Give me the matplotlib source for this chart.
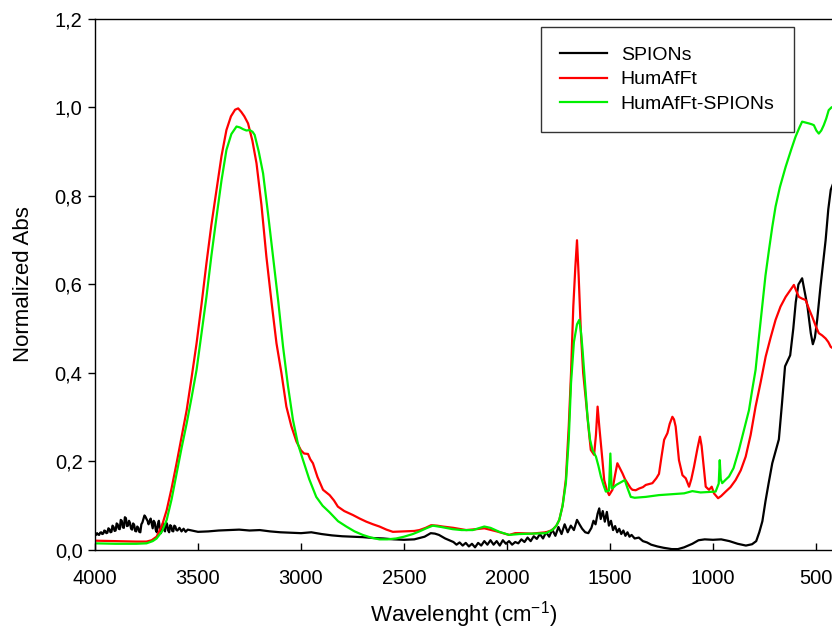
import matplotlib
matplotlib.use("Agg")
import matplotlib.pyplot as plt
from matplotlib.ticker import FuncFormatter, MultipleLocator

plt.rcParams['font.family'] = ['Liberation Sans', 'DejaVu Sans']

# SPIONs (black)
spions_x = [4000, 3995, 3990, 3985, 3980, 3975, 3970, 3965, 3960, 3955, 3950, 3945, 3940, 3935,
            3930, 3925, 3920, 3915, 3910, 3905, 3900, 3895, 3890, 3885, 3880, 3875, 3870, 3865,
            3860, 3855, 3850, 3845, 3840, 3835, 3830, 3825, 3820, 3815, 3810, 3805, 3800, 3795,
            3790, 3785, 3780, 3775, 3770, 3765, 3760, 3755, 3750, 3745, 3740, 3735, 3730, 3725,
            3720, 3715, 3710, 3705, 3700, 3695, 3690, 3685, 3680, 3675, 3670, 3665, 3660, 3655,
            3650, 3645, 3640, 3635, 3630, 3625, 3620, 3615, 3610, 3605, 3600, 3590,
            3580, 3570, 3560, 3550, 3500, 3450, 3400, 3350, 3300, 3250, 3200, 3150, 3100, 3050,
            3000, 2950, 2900, 2850, 2800, 2750, 2700, 2650, 2600, 2550, 2500, 2450, 2400, 2370,
            2350, 2330, 2300, 2280, 2260, 2245, 2230, 2215, 2200, 2185, 2170, 2155, 2140, 2125,
            2110, 2095, 2080, 2065, 2050, 2035, 2020, 2005, 1990, 1975, 1960, 1945, 1930, 1915,
            1900, 1885, 1870, 1855, 1840, 1825, 1810, 1795, 1780, 1765, 1750, 1735, 1720, 1705,
            1690, 1675, 1660, 1648, 1635, 1620, 1605, 1590, 1580, 1570, 1560, 1552, 1545, 1535,
            1525, 1515, 1505, 1495, 1485, 1475, 1465, 1455, 1445, 1435, 1425, 1415, 1405, 1395,
            1380, 1360, 1340, 1320, 1300, 1270, 1240, 1200, 1170, 1140, 1100, 1070, 1040, 1000,
            960, 920, 880, 840, 810, 790, 775, 760, 745, 730, 712, 695, 680, 665, 650, 640, 625,
            610, 598, 585, 567, 555, 541, 525, 515, 505, 494, 478, 465, 453, 440, 428, 415]
spions_y = [.036, .034, .038, .035, .034, .039, .040, .036, .037, .044, .043, .038, .039, .049,
            .047, .040, .041, .055, .052, .043, .044, .060, .058, .048, .047, .068, .066, .051,
            .050, .074, .072, .054, .055, .066, .061, .048, .046, .060, .057, .043, .042, .053,
            .050, .041, .040, .058, .062, .070, .078, .075, .070, .066, .058, .064, .071, .060,
            .049, .066, .062, .045, .040, .058, .066, .048, .038, .050, .060, .046, .042, .062,
            .058, .044, .040, .056, .054, .043, .042, .055, .053, .045, .044, .050,
            .042, .048, .041, .046, .041, .042, .044, .045, .046, .044, .045, .042, .040, .039,
            .038, .040, .036, .033, .031, .030, .029, .027, .026, .024, .023, .024, .030, .038,
            .037, .034, .026, .022, .018, .012, .017, .010, .016, .008, .014, .006, .016, .010,
            .020, .012, .022, .012, .020, .010, .022, .014, .020, .012, .018, .015, .024, .018,
            .028, .020, .031, .025, .036, .026, .040, .030, .046, .032, .052, .036, .058, .040,
            .055, .045, .068, .058, .048, .040, .038, .050, .066, .058, .082, .094, .070, .088,
            .064, .086, .055, .066, .045, .054, .040, .048, .036, .044, .032, .040, .030, .034,
            .026, .028, .020, .017, .012, .008, .005, .002, .002, .006, .014, .022, .024, .023,
            .024, .020, .014, .010, .013, .020, .040, .065, .110, .150, .196, .225, .250, .330,
            .415, .425, .440, .500, .560, .600, .614, .585, .550, .490, .465, .480, .520, .595,
            .650, .700, .770, .814, .830]

# HumAfFt (red)
humafft_x = [4000, 3900, 3800, 3750, 3725, 3701, 3675, 3652, 3628, 3604, 3580, 3555, 3531, 3507,
             3483, 3459, 3435, 3410, 3386, 3362, 3340, 3320, 3305, 3290, 3275, 3257, 3236, 3216,
             3192, 3168, 3143, 3119, 3095, 3071, 3047, 3022, 3000, 2985, 2966, 2955, 2942, 2920,
             2893, 2861, 2840, 2821, 2790, 2748, 2715, 2683, 2650, 2619, 2585, 2554, 2500, 2450,
             2425, 2395, 2368, 2340, 2312, 2260, 2198, 2150, 2110, 2050, 1989, 1960, 1940, 1880,
             1811, 1780, 1760, 1746, 1730, 1714, 1700, 1689, 1678, 1668, 1660, 1652, 1641, 1630,
             1617, 1605, 1593, 1577, 1568, 1560, 1552, 1544, 1536, 1528, 1515, 1504, 1488, 1475,
             1464, 1452, 1439, 1427, 1415, 1400, 1391, 1375, 1358, 1340, 1326, 1294, 1275, 1262,
             1250, 1237, 1221, 1210, 1197, 1189, 1181, 1173, 1165, 1148, 1132, 1116, 1105, 1092,
             1075, 1063, 1055, 1048, 1040, 1035, 1019, 1006, 995, 975, 960, 938, 915, 890, 865,
             841, 817, 793, 768, 744, 720, 696, 672, 647, 625, 607, 595, 583, 567, 550, 534, 518,
             500, 486, 470, 453, 440, 428, 415]
humafft_y = [.021, .020, .019, .019, .022, .030, .055, .090, .140, .196, .255, .316, .390, .467,
             .555, .648, .735, .814, .890, .949, .980, .995, .998, .990, .980, .964, .925, .874,
             .780, .663, .560, .467, .400, .324, .280, .245, .225, .218, .217, .205, .196, .165,
             .136, .124, .112, .098, .088, .079, .071, .064, .058, .053, .046, .041, .042, .043,
             .045, .050, .056, .055, .053, .050, .045, .047, .049, .042, .034, .038, .038, .037,
             .040, .045, .055, .068, .100, .160, .280, .400, .550, .640, .700, .620, .490, .400,
             .339, .280, .226, .215, .260, .324, .280, .241, .200, .158, .135, .124, .136, .170,
             .196, .185, .173, .160, .151, .140, .136, .135, .139, .142, .147, .151, .162, .172,
             .210, .249, .264, .285, .301, .295, .279, .240, .203, .169, .162, .143, .160, .188,
             .230, .256, .235, .203, .165, .143, .136, .143, .128, .117, .122, .132, .142, .158,
             .180, .211, .260, .324, .380, .437, .480, .520, .550, .572, .587, .599, .585, .572,
             .568, .565, .545, .527, .505, .490, .485, .478, .470, .459, .455]

# HumAfFt-SPIONs (green)
hybrid_x = [4000, 3900, 3800, 3750, 3720, 3701, 3675, 3652, 3628, 3604, 3580, 3555, 3531, 3507,
            3483, 3459, 3435, 3410, 3386, 3362, 3338, 3313, 3297, 3281, 3265, 3249, 3235, 3225,
            3205, 3184, 3160, 3136, 3110, 3087, 3063, 3039, 3015, 2990, 2960, 2926, 2895, 2861,
            2820, 2780, 2740, 2700, 2660, 2619, 2580, 2538, 2500, 2457, 2420, 2392, 2360, 2320,
            2263, 2220, 2166, 2130, 2110, 2080, 2037, 1989, 1940, 1880, 1811, 1780, 1760, 1746,
            1730, 1714, 1700, 1689, 1675, 1660, 1649, 1640, 1633, 1620, 1609, 1597, 1585, 1568,
            1556, 1544, 1530, 1520, 1505, 1498, 1492, 1488, 1470, 1455, 1440, 1428, 1415, 1399,
            1380, 1326, 1262, 1200, 1140, 1100, 1060, 1020, 987, 972, 967, 962, 955, 940, 922,
            900, 874, 850, 825, 810, 793, 777, 761, 745, 728, 712, 696, 675, 647, 620, 599, 580,
            567, 550, 534, 520, 510, 498, 486, 474, 462, 450, 438, 425]
hybrid_y = [.015, .014, .014, .015, .020, .026, .042, .068, .115, .173, .230, .286, .345, .407,
            .490, .572, .665, .753, .835, .904, .940, .957, .955, .951, .948, .949, .945, .938,
            .900, .851, .760, .663, .560, .459, .370, .294, .240, .203, .160, .120, .100, .085,
            .065, .053, .042, .034, .028, .024, .024, .026, .030, .036, .043, .049, .055, .052,
            .047, .045, .045, .050, .053, .050, .041, .034, .036, .037, .038, .045, .055, .068,
            .100, .151, .250, .377, .470, .510, .520, .490, .452, .370, .301, .250, .226, .211,
            .190, .166, .145, .132, .134, .218, .140, .139, .147, .151, .155, .158, .140, .120,
            .118, .120, .124, .126, .128, .133, .130, .131, .132, .150, .203, .160, .151, .158,
            .166, .185, .226, .270, .316, .360, .407, .480, .550, .620, .678, .730, .776, .820,
            .866, .905, .934, .955, .968, .966, .964, .962, .960, .948, .941, .948, .960, .975,
            .994, 1.000]

fig = plt.figure(figsize=(8.32, 6.31), dpi=100)
ax = fig.add_axes([0.1142, 0.1284, 0.8858, 0.8415])

ax.plot(spions_x, spions_y, color='black', lw=1.6, label='SPIONs')
ax.plot(humafft_x, humafft_y, color='#ff0000', lw=1.6, label='HumAfFt')
ax.plot(hybrid_x, hybrid_y, color='#00f000', lw=1.6, label='HumAfFt-SPIONs')

ax.set_xlim(4000, 422)
ax.set_ylim(0, 1.2)
ax.xaxis.set_major_locator(MultipleLocator(500))
ax.yaxis.set_major_locator(MultipleLocator(0.2))
ax.yaxis.set_major_formatter(FuncFormatter(lambda v, p: f"{v:.1f}".replace('.', ',')))
ax.xaxis.set_major_formatter(FuncFormatter(lambda v, p: f"{v:.0f}"))

ax.spines['right'].set_visible(False)
for s in ['left', 'top', 'bottom']:
    ax.spines[s].set_linewidth(1.0)
ax.tick_params(axis='x', direction='in', length=5, width=1, labelsize=14.5, pad=14)
ax.tick_params(axis='y', direction='out', length=5, width=1, labelsize=14.5, pad=4)

ax.set_xlabel(r"Wavelenght ($\mathregular{cm^{-1}}$)", fontsize=16, labelpad=8)
ax.set_ylabel("Normalized Abs", fontsize=16, labelpad=15)

leg = ax.legend(loc='upper left', bbox_to_anchor=(541 / 832, 1 - 27 / 631),
                bbox_transform=fig.transFigure, fontsize=14, frameon=True, fancybox=False,
                handlelength=2.4, labelspacing=0.35, borderpad=1.0, handletextpad=0.7,
                borderaxespad=0)
leg.get_frame().set_edgecolor('black')
leg.get_frame().set_linewidth(1.0)

fig.savefig('out.png', dpi=100)
